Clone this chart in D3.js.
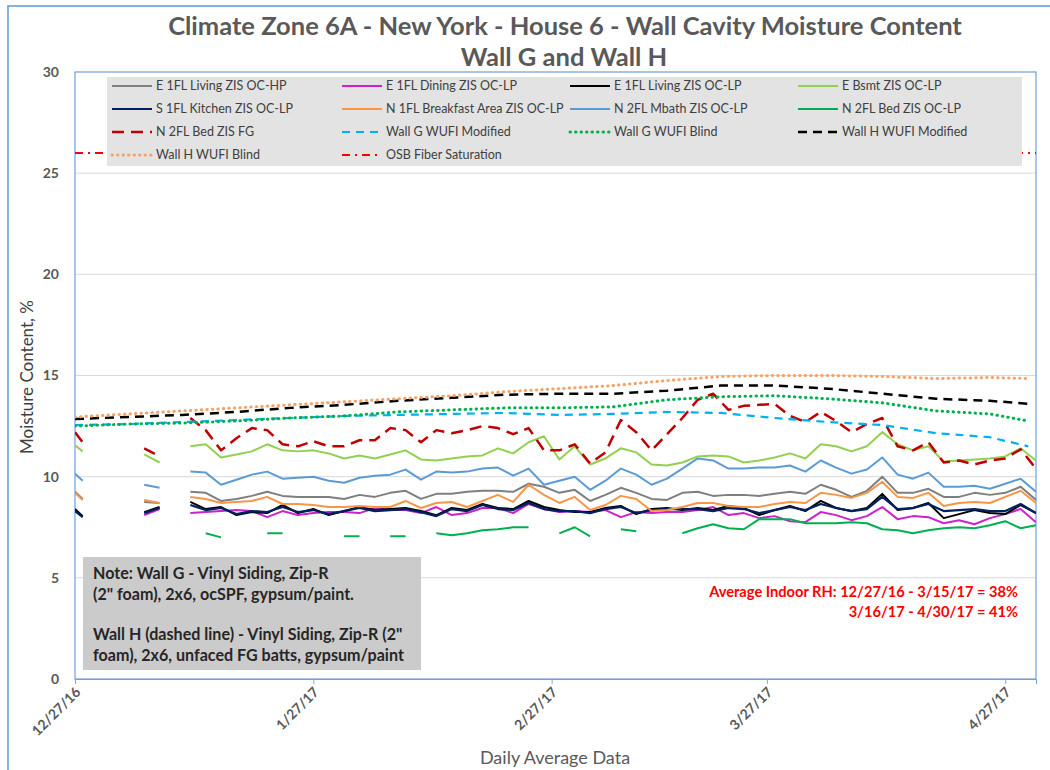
<!DOCTYPE html>
<html>
<head>
<meta charset="utf-8">
<script src="https://cdn.jsdelivr.net/npm/d3@7"></script>
<style>
  body { margin: 0; background: #fff; }
  text { font-family: Lato, "Open Sans", sans-serif; }
</style>
</head>
<body>
<div class="viz"></div>
<script>
// ---- data (day offsets from 12/27/16) ----
const startDate = new Date(2016, 11, 27);
const endDate = new Date(2017, 4, 1);

const sensorDays = [0, 1, 5, 9, 11, 13, 15, 17, 19, 21, 23, 25, 27, 29, 31, 33, 35, 37, 39, 41, 43, 45, 47, 49, 51,
  53, 55, 57, 59, 61, 63, 65, 67, 69, 71, 73, 75, 77, 79, 81, 83, 85, 87, 89, 91, 93, 95, 97, 99, 101, 103, 105,
  107, 109, 111, 113, 115, 117, 119, 121, 123, 125];

const livingHP = [9.25, 8.9, null, 8.75, 8.7, null, 9.25, 9.2, 8.8, 8.9, 9.05, 9.25, 9.05, 9.0, 9.0, 9.0, 8.9, 9.1, 9.0,
  9.2, 9.3, 8.9, 9.15, 9.15, 9.25, 9.3, 9.3, 9.25, 9.65, 9.5, 9.2, 9.35, 8.8, 9.1, 9.45, 9.2, 8.9, 8.85, 9.2, 9.25,
  9.05, 9.1, 9.1, 9.05, 9.15, 9.25, 9.15, 9.6, 9.35, 9.0, 9.3, 10.0, 9.2, 9.2, 9.4, 9.0, 9.0, 9.2, 9.1, 9.2, 9.5, 8.85];
const dining = [null, null, null, 8.1, 8.4, null, 8.2, 8.25, 8.3, 8.35, 8.3, 8.0, 8.3, 8.1, 8.2, 8.25, 8.25, 8.2, 8.45,
  8.35, 8.35, 8.2, 8.5, 8.1, 8.2, 8.45, 8.45, 8.2, 8.65, 8.4, 8.25, 8.3, 8.25, 8.35, 8.0, 8.25, 8.2, 8.25, 8.25, 8.35,
  8.5, 8.1, 8.2, 7.95, 8.05, 7.8, 7.75, 8.25, 8.1, 7.85, 8.05, 8.5, 7.9, 8.05, 8.0, 7.7, 7.85, 7.65, 7.95, 8.15, 8.4, 7.75];
const livingLP = [8.4, 8.05, null, 8.25, 8.5, null, 8.75, 8.4, 8.5, 8.1, 8.25, 8.2, 8.6, 8.2, 8.4, 8.1, 8.3, 8.5, 8.35,
  8.4, 8.45, 8.3, 8.1, 8.45, 8.35, 8.65, 8.45, 8.4, 8.8, 8.5, 8.35, 8.25, 8.25, 8.45, 8.55, 8.15, 8.4, 8.45, 8.35, 8.45,
  8.35, 8.55, 8.45, 8.1, 8.35, 8.55, 8.3, 8.8, 8.45, 8.3, 8.45, 9.15, 8.35, 8.45, 8.7, 7.95, 8.15, 8.35, 8.2, 8.15, 8.6, 8.2];
const bsmt = [11.55, 11.25, null, 11.1, 10.7, null, 11.5, 11.6, 10.95, 11.1, 11.25, 11.6, 11.3, 11.25, 11.3, 11.15, 10.9,
  11.05, 10.9, 11.1, 11.3, 10.85, 10.8, 10.9, 11.0, 11.05, 11.4, 11.15, 11.7, 12.0, 10.85, 11.5, 10.6, 10.9, 11.4, 11.2,
  10.6, 10.55, 10.7, 11.0, 11.05, 11.0, 10.7, 10.8, 10.95, 11.15, 10.9, 11.6, 11.5, 11.25, 11.5, 12.2, 11.6, 11.3, 11.5,
  10.75, 10.8, 10.85, 10.9, 11.0, 11.4, 10.8];
const kitchen = [8.3, 8.0, null, 8.2, 8.45, null, 8.6, 8.35, 8.45, 8.15, 8.3, 8.25, 8.5, 8.25, 8.35, 8.15, 8.3, 8.45, 8.3,
  8.35, 8.4, 8.25, 8.05, 8.4, 8.3, 8.6, 8.4, 8.35, 8.7, 8.4, 8.3, 8.3, 8.2, 8.4, 8.5, 8.2, 8.35, 8.4, 8.4, 8.4, 8.3,
  8.45, 8.4, 8.2, 8.35, 8.5, 8.35, 8.65, 8.45, 8.3, 8.4, 9.0, 8.4, 8.45, 8.65, 8.3, 8.35, 8.4, 8.3, 8.3, 8.65, 8.2];
const breakfast = [9.2, 8.85, null, 8.85, 8.7, null, 9.0, 8.9, 8.7, 8.75, 8.8, 9.0, 8.65, 8.65, 8.6, 8.5, 8.5, 8.55, 8.5,
  8.5, 8.8, 8.45, 8.7, 8.75, 8.5, 8.8, 9.1, 8.75, 9.6, 9.1, 8.7, 9.0, 8.35, 8.6, 9.05, 8.9, 8.3, 8.35, 8.5, 8.7, 8.7,
  8.55, 8.5, 8.5, 8.65, 8.75, 8.7, 9.2, 9.1, 8.95, 9.2, 9.75, 9.0, 8.95, 9.2, 8.55, 8.7, 8.75, 8.7, 9.0, 9.3, 8.7];
const mbath = [10.15, 9.8, null, 9.6, 9.45, null, 10.25, 10.2, 9.6, 9.85, 10.1, 10.25, 9.9, 9.95, 10.0, 9.8, 9.7, 9.95,
  10.05, 10.1, 10.35, 9.85, 10.25, 10.2, 10.25, 10.4, 10.45, 10.05, 10.4, 9.6, 9.8, 10.0, 9.35, 9.8, 10.4, 10.1, 9.6,
  9.9, 10.4, 10.9, 10.8, 10.4, 10.4, 10.45, 10.45, 10.55, 10.25, 10.8, 10.45, 10.15, 10.35, 10.95, 10.1, 9.9, 10.2,
  9.5, 9.5, 9.55, 9.4, 9.65, 9.9, 9.25];
const bedLP = [null, null, null, null, null, null, null, 7.2, 7.0, null, null, 7.2, 7.2, null, null, null, 7.05, 7.05,
  null, 7.05, 7.05, null, 7.2, 7.1, 7.2, 7.35, 7.4, 7.5, 7.5, null, 7.2, 7.5, 7.05, null, 7.4, 7.3, null, null, 7.2,
  7.45, 7.65, 7.45, 7.4, 7.9, 7.9, 7.9, 7.7, 7.7, 7.7, 7.75, 7.7, 7.4, 7.35, 7.2, 7.35, 7.45, 7.5, 7.45, 7.6, 7.8, 7.45, 7.6];
const bedFG = [12.2, 11.7, null, 11.4, 11.0, null, 12.9, 12.3, 11.3, 11.9, 12.4, 12.3, 11.6, 11.5, 11.75, 11.5, 11.5,
  11.8, 11.8, 12.4, 12.3, 11.7, 12.3, 12.15, 12.3, 12.5, 12.4, 12.1, 12.4, 11.3, 11.3, 11.6, 10.65, 11.2, 12.8, 12.2,
  11.3, 12.1, 12.9, 13.8, 14.1, 13.3, 13.5, 13.55, 13.6, 13.0, 12.7, 13.2, 12.75, 12.2, 12.6, 12.9, 11.5, 11.3, 11.7,
  10.7, 10.8, 10.6, 10.8, 10.9, 11.35, 10.4];

const wufiDays = [0, 7, 14, 21, 28, 35, 42, 49, 56, 63, 70, 77, 84, 91, 98, 105, 112, 119, 124];
const wallGModified = [12.55, 12.6, 12.7, 12.8, 12.9, 13.0, 13.05, 13.1, 13.15, 13.05, 13.1, 13.2, 13.15, 12.9, 12.7, 12.55, 12.15, 11.95, 11.5];
const wallGBlind = [12.5, 12.6, 12.65, 12.75, 12.9, 13.0, 13.2, 13.3, 13.4, 13.4, 13.45, 13.8, 13.95, 14.0, 13.85, 13.65, 13.25, 13.1, 12.75];
const wallHModified = [12.85, 12.95, 13.05, 13.2, 13.4, 13.55, 13.75, 13.9, 14.05, 14.1, 14.1, 14.25, 14.5, 14.5, 14.35, 14.1, 13.85, 13.75, 13.6];
const wallHBlind = [12.95, 13.1, 13.25, 13.4, 13.55, 13.7, 13.85, 14.0, 14.2, 14.35, 14.5, 14.75, 14.95, 15.0, 15.0, 14.95, 14.85, 14.9, 14.85];

const osbDays = [0, 125];
const osbSaturation = [26, 26];

const yTicks = [0, 5, 10, 15, 20, 25, 30];
const xTickDates = ["2016-12-27", "2017-01-27", "2017-02-27", "2017-03-27", "2017-04-27"];

// ---- series styling (legend order) ----
const series = [
  { name: "E 1FL Living ZIS OC-HP", days: sensorDays, values: livingHP, color: "#7f7f7f", width: 2, dash: null },
  { name: "E 1FL Dining ZIS OC-LP", days: sensorDays, values: dining, color: "#cc22cc", width: 2, dash: null },
  { name: "E 1FL Living ZIS OC-LP", days: sensorDays, values: livingLP, color: "#000000", width: 2, dash: null },
  { name: "E Bsmt ZIS OC-LP", days: sensorDays, values: bsmt, color: "#92d050", width: 2, dash: null },
  { name: "S 1FL Kitchen ZIS OC-LP", days: sensorDays, values: kitchen, color: "#002060", width: 2.2, dash: null },
  { name: "N 1FL Breakfast Area ZIS OC-LP", days: sensorDays, values: breakfast, color: "#f79646", width: 2, dash: null },
  { name: "N 2FL Mbath ZIS OC-LP", days: sensorDays, values: mbath, color: "#5b9bd5", width: 2, dash: null },
  { name: "N 2FL Bed ZIS OC-LP", days: sensorDays, values: bedLP, color: "#00b050", width: 2, dash: null },
  { name: "N 2FL Bed ZIS FG", days: sensorDays, values: bedFG, color: "#c00000", width: 2.5, dash: "12,7" },
  { name: "Wall G WUFI Modified", days: wufiDays, values: wallGModified, color: "#00b0f0", width: 2.2, dash: "8,6" },
  { name: "Wall G WUFI Blind", days: wufiDays, values: wallGBlind, color: "#00b050", width: 3, dash: "0.5,5", cap: "round" },
  { name: "Wall H WUFI Modified", days: wufiDays, values: wallHModified, color: "#000000", width: 2.5, dash: "9,6" },
  { name: "Wall H WUFI Blind", days: wufiDays, values: wallHBlind, color: "#f4a46a", width: 3, dash: "0.5,5", cap: "round" },
  { name: "OSB Fiber Saturation", days: osbDays, values: osbSaturation, color: "#ff0000", width: 2, dash: "8,5,2,5" }
];

// ---- layout ----
const W = 1050, H = 770;
const plot = { left: 75, right: 1036, top: 72, bottom: 679 };

const svg = d3.select(".viz").append("svg")
  .attr("width", W)
  .attr("height", H);

// outer chart border
svg.append("rect")
  .attr("x", 8).attr("y", 6)
  .attr("width", W + 20).attr("height", H + 20)
  .attr("fill", "#fff")
  .attr("stroke", "#5b9bd5")
  .attr("stroke-width", 1.5);

const x = d3.scaleTime().domain([startDate, endDate]).range([plot.left, plot.right]);
const y = d3.scaleLinear().domain([0, 30]).range([plot.bottom, plot.top]);
const dayToDate = d => d3.timeDay.offset(startDate, d);

// gridlines
svg.append("g")
  .selectAll("line")
  .data(yTicks.filter(t => t > 0 && t < 30))
  .enter().append("line")
  .attr("x1", plot.left).attr("x2", plot.right)
  .attr("y1", d => y(d)).attr("y2", d => y(d))
  .attr("stroke", "#d9d9d9").attr("stroke-width", 1);

// plot border
svg.append("rect")
  .attr("x", plot.left).attr("y", plot.top)
  .attr("width", plot.right - plot.left).attr("height", plot.bottom - plot.top)
  .attr("fill", "none")
  .attr("stroke", "#6fa0d8")
  .attr("stroke-width", 1.2);

// y axis
const yAxis = svg.append("g")
  .attr("transform", "translate(" + plot.left + ",0)")
  .call(d3.axisLeft(y).tickValues(yTicks).tickSize(0).tickPadding(16));
yAxis.select(".domain").remove();
yAxis.selectAll("text")
  .attr("font-size", 14).attr("font-weight", "bold").attr("fill", "#595959")
  .style("font-family", "Lato, sans-serif");

// x axis
const xAxis = svg.append("g")
  .attr("transform", "translate(0," + plot.bottom + ")")
  .call(d3.axisBottom(x)
    .tickValues(xTickDates.map(s => d3.timeParse("%Y-%m-%d")(s)))
    .tickFormat(d3.timeFormat("%-m/%-d/%y"))
    .tickSize(5));
xAxis.select(".domain").attr("stroke", "#6fa0d8");
xAxis.selectAll(".tick line").attr("stroke", "#8fa9c8");
xAxis.selectAll("text")
  .attr("font-size", 14).attr("font-weight", "bold").attr("fill", "#595959")
  .style("font-family", "Lato, sans-serif")
  .attr("text-anchor", "end")
  .attr("dy", null).attr("y", 0)
  .attr("transform", "translate(6,14) rotate(-45)");

// lines
const clip = svg.append("clipPath").attr("id", "plotclip")
  .append("rect")
  .attr("x", plot.left).attr("y", plot.top)
  .attr("width", plot.right - plot.left).attr("height", plot.bottom - plot.top);

const lineGroup = svg.append("g").attr("clip-path", "url(#plotclip)");
series.forEach(s => {
  const pts = s.days.map((d, i) => [dayToDate(d), s.values[i]]);
  const line = d3.line()
    .defined(p => p[1] != null)
    .x(p => x(p[0]))
    .y(p => y(p[1]));
  lineGroup.append("path")
    .datum(pts)
    .attr("d", line)
    .attr("fill", "none")
    .attr("stroke", s.color)
    .attr("stroke-width", s.width)
    .attr("stroke-dasharray", s.dash)
    .attr("stroke-linecap", s.cap || "butt")
    .attr("stroke-linejoin", "round");
});

// fit helper: scale font size so text spans the target width
function fitWidth(sel, target) {
  const fs = parseFloat(sel.attr("font-size"));
  const w = sel.node().getComputedTextLength();
  if (w > 0) sel.attr("font-size", (fs * target / w).toFixed(2));
  return sel;
}

// legend
const legend = svg.append("g");
legend.append("rect")
  .attr("x", 107).attr("y", 77)
  .attr("width", 915).attr("height", 89)
  .attr("fill", "#e3e3e3");

const colX = [112, 342, 570, 798];
const rowY = [86, 109, 132, 155];
series.forEach((s, i) => {
  const cx = colX[i % 4], cy = rowY[Math.floor(i / 4)];
  const item = legend.append("g");
  item.append("line")
    .attr("x1", cx).attr("x2", cx + 40)
    .attr("y1", cy).attr("y2", cy)
    .attr("stroke", s.color)
    .attr("stroke-width", s.width)
    .attr("stroke-dasharray", s.dash)
    .attr("stroke-linecap", s.cap || "butt");
  item.append("text")
    .attr("x", cx + 44).attr("y", cy + 4)
    .attr("font-size", 12.5)
    .attr("fill", "#404040")
    .text(s.name);
});

// title
const title1 = svg.append("text")
  .attr("x", 565).attr("y", 35)
  .attr("text-anchor", "middle")
  .attr("font-size", 22).attr("font-weight", "bold").attr("fill", "#595959")
  .text("Climate Zone 6A - New York - House 6 - Wall Cavity Moisture Content");
fitWidth(title1, 794);
const title2 = svg.append("text")
  .attr("x", 564).attr("y", 66)
  .attr("text-anchor", "middle")
  .attr("font-size", 22).attr("font-weight", "bold").attr("fill", "#595959")
  .text("Wall G and Wall H");
title2.attr("font-size", title1.attr("font-size"));

// axis titles
svg.append("text")
  .attr("transform", "translate(33,377) rotate(-90)")
  .attr("text-anchor", "middle")
  .attr("font-size", 17).attr("fill", "#404040")
  .text("Moisture Content, %");
svg.append("text")
  .attr("x", 555).attr("y", 764)
  .attr("text-anchor", "middle")
  .attr("font-size", 18).attr("fill", "#595959")
  .text("Daily Average Data");

// note box
svg.append("rect")
  .attr("x", 83).attr("y", 557)
  .attr("width", 338).attr("height", 113)
  .attr("fill", "#cbcbcb");
const noteLines = [
  { t: "Note: Wall G - Vinyl Siding, Zip-R", y: 579 },
  { t: "(2\" foam), 2x6, ocSPF, gypsum/paint.", y: 600 },
  { t: "Wall H  (dashed line) - Vinyl Siding, Zip-R (2\"", y: 640 },
  { t: "foam), 2x6, unfaced FG batts, gypsum/paint", y: 661 }
];
const noteTexts = noteLines.map(l => svg.append("text")
  .attr("x", 93).attr("y", l.y)
  .attr("font-size", 14).attr("font-weight", "bold").attr("fill", "#262626")
  .text(l.t));
fitWidth(noteTexts[3], 311);
noteTexts.forEach(t => t.attr("font-size", noteTexts[3].attr("font-size")));

// RH annotation
const rh1 = svg.append("text")
  .attr("x", 1018).attr("y", 597)
  .attr("text-anchor", "end")
  .attr("font-size", 14).attr("font-weight", "bold").attr("fill", "#ff0000")
  .text("Average Indoor RH: 12/27/16 - 3/15/17 = 38%");
fitWidth(rh1, 309);
svg.append("text")
  .attr("x", 1018).attr("y", 617)
  .attr("text-anchor", "end")
  .attr("font-size", rh1.attr("font-size")).attr("font-weight", "bold").attr("fill", "#ff0000")
  .text("3/16/17 - 4/30/17 = 41%");
</script>
</body>
</html>
